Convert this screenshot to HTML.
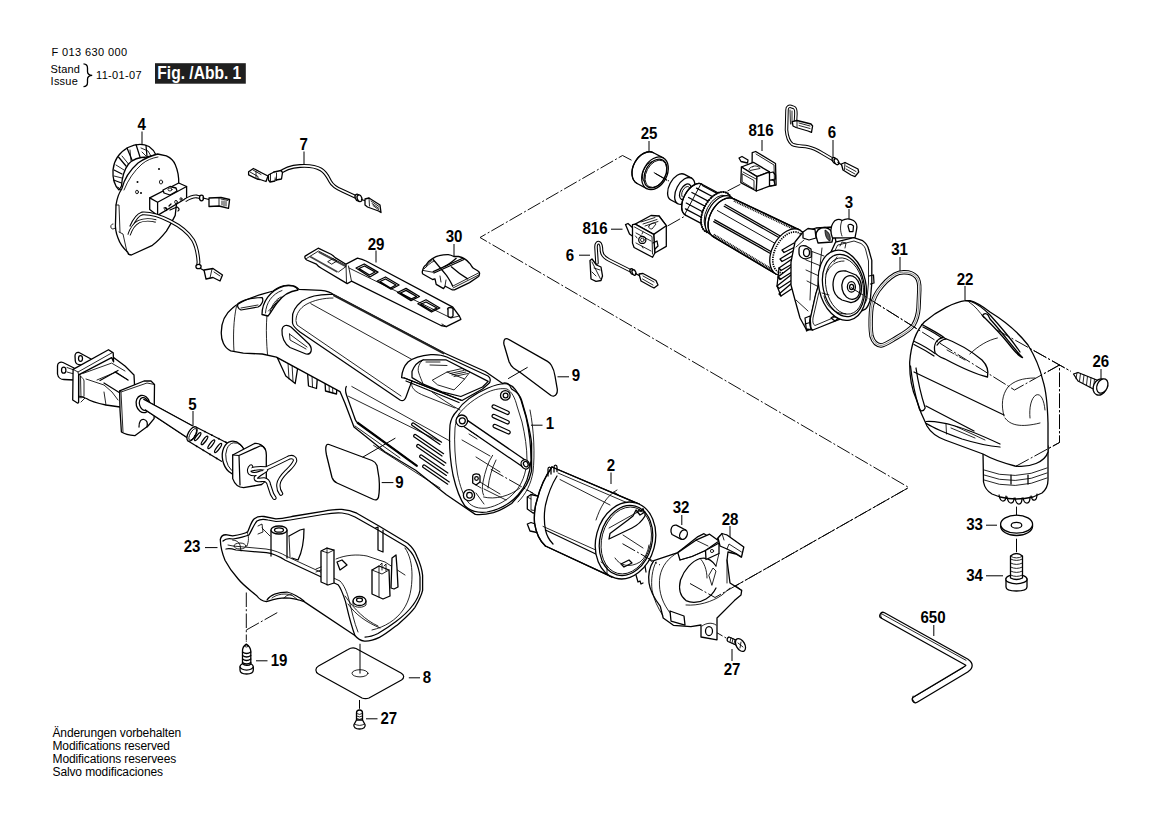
<!DOCTYPE html>
<html><head><meta charset="utf-8"><style>
html,body{margin:0;padding:0;background:#fff;width:1169px;height:826px;overflow:hidden}
svg{display:block}
text{font-family:"Liberation Sans",sans-serif;fill:#000}
.l{font-weight:bold;font-size:16.2px;text-anchor:middle}
.s{fill:none;stroke:#000;stroke-width:1.25;stroke-linejoin:round;stroke-linecap:round}
.t{fill:none;stroke:#000;stroke-width:0.85;stroke-linejoin:round;stroke-linecap:round}
.w{fill:#fff;stroke:#000;stroke-width:1.3;stroke-linejoin:round;stroke-linecap:round}
.d{fill:none;stroke:#000;stroke-width:0.9;stroke-dasharray:9 3 2 3}
.ld{fill:none;stroke:#000;stroke-width:1}
</style></head><body>
<svg width="1169" height="826" viewBox="0 0 1169 826">
<!-- header -->
<text x="51.6" y="56.3" font-size="11" textLength="75.4" lengthAdjust="spacing">F 013 630 000</text>
<text x="50.6" y="73" font-size="11" textLength="29.2" lengthAdjust="spacing">Stand</text>
<text x="50.6" y="85" font-size="11" textLength="27.2" lengthAdjust="spacing">Issue</text>
<path d="M83.5,63.8 C86.5,64 87.5,65.5 87.5,68 L87.5,71.5 C87.5,74 89,75.2 92.2,75.3 C89,75.4 87.5,76.6 87.5,79.2 L87.5,82.5 C87.5,85 86.5,86.5 83.5,86.6" fill="none" stroke="#000" stroke-width="1.3"/>
<text x="96" y="78.6" font-size="11" textLength="45.6" lengthAdjust="spacing">11-01-07</text>
<rect x="155" y="63.2" width="90.8" height="20.5" fill="#1f1f1f"/>
<text x="157.3" y="79" font-size="17.6" font-weight="bold" style="fill:#fff" textLength="84" lengthAdjust="spacingAndGlyphs">Fig. /Abb. 1</text>
<!-- footer -->
<text x="52.5" y="737" font-size="12" textLength="128.7" lengthAdjust="spacing">Änderungen vorbehalten</text>
<text x="52.5" y="750" font-size="12" textLength="117.5" lengthAdjust="spacing">Modifications reserved</text>
<text x="52.5" y="762.5" font-size="12" textLength="123.7" lengthAdjust="spacing">Modifications reservees</text>
<text x="52.5" y="775.5" font-size="12" textLength="110.5" lengthAdjust="spacing">Salvo modificaciones</text>
<!-- labels -->
<g class="lab">
<text class="l" transform="translate(141.75,130.40) scale(0.93,1)">4</text>
<text class="l" transform="translate(303.75,150.40) scale(0.93,1)">7</text>
<text class="l" transform="translate(376,249.90) scale(0.93,1)">29</text>
<text class="l" transform="translate(454,242.40) scale(0.93,1)">30</text>
<text class="l" transform="translate(649,139.40) scale(0.93,1)">25</text>
<text class="l" transform="translate(761,136.40) scale(0.93,1)">816</text>
<text class="l" transform="translate(832,137.90) scale(0.93,1)">6</text>
<text class="l" transform="translate(595,234.40) scale(0.93,1)">816</text>
<text class="l" transform="translate(570,260.90) scale(0.93,1)">6</text>
<text class="l" transform="translate(849,207.90) scale(0.93,1)">3</text>
<text class="l" transform="translate(899.5,254.90) scale(0.93,1)">31</text>
<text class="l" transform="translate(965,284.90) scale(0.93,1)">22</text>
<text class="l" transform="translate(1100.75,367.40) scale(0.93,1)">26</text>
<text class="l" transform="translate(192.5,409.90) scale(0.93,1)">5</text>
<text class="l" transform="translate(576,381.40) scale(0.93,1)">9</text>
<text class="l" transform="translate(550,429.40) scale(0.93,1)">1</text>
<text class="l" transform="translate(399.5,487.90) scale(0.93,1)">9</text>
<text class="l" transform="translate(611,470.90) scale(0.93,1)">2</text>
<text class="l" transform="translate(681,512.90) scale(0.93,1)">32</text>
<text class="l" transform="translate(730,524.90) scale(0.93,1)">28</text>
<text class="l" transform="translate(192,552.40) scale(0.93,1)">23</text>
<text class="l" transform="translate(974.5,529.90) scale(0.93,1)">33</text>
<text class="l" transform="translate(974.5,581.15) scale(0.93,1)">34</text>
<text class="l" transform="translate(933,623.40) scale(0.93,1)">650</text>
<text class="l" transform="translate(279,666.15) scale(0.93,1)">19</text>
<text class="l" transform="translate(427,682.90) scale(0.93,1)">8</text>
<text class="l" transform="translate(388.75,724.15) scale(0.93,1)">27</text>
<text class="l" transform="translate(732,674.90) scale(0.93,1)">27</text>
</g>

<g class="ld">
<path d="M142,131.5V144 M304,151.5V164 M376,250.5V262.5 M454,244V256 M649,141V151 M762,140V151 M833,140V157 M611,229.2H622.5 M579,255.2H590 M849,209V220 M900,257V271 M965,286V300 M1101,369V381 M193,411V426 M557.5,376.8H569 M531,425.2H542.5 M381.7,482.6H393.4 M611,472.5V484 M681.8,515V525 M730,526V537.5 M205,547.6H217.5 M986,525.2H997 M986,575.8H1003 M933.8,625V636 M256,660.8H267.5 M408.8,677.8H420 M366,718.8H377.5 M732,649V661"/>
</g>

<g fill="none" stroke="#000" stroke-width="0.95" stroke-dasharray="14.5 2.2 2 2.3">
<path d="M631.5,160.2 L622.5,155.5 L480,237.5 L908.8,487.5 L715,597.5 L490.8,469.3"/>
<path d="M653.8,172.5 L669,181"/>
<path d="M851,287.5 L1014.5,390 L1059.5,365 L1059.5,442.5 L1014.5,467"/>
<path d="M997,330 L1070.8,371.3"/>
<path d="M1016.5,506.6 L1016.5,523"/>
<path d="M246.3,592.5 L246.3,640 M246.3,630 L277.5,612.5"/>
<path d="M710,628.8 L727.5,638.8"/>
<path d="M667.5,226 L686,215.5 M727.5,191 L741,184"/>
</g>

<!-- hex key 650 -->
<g>
<path d="M883,615.5 L966.5,662 Q971.5,665.5 966.5,669 L915.5,699.5" fill="none" stroke="#000" stroke-width="7.6" stroke-linecap="round" stroke-linejoin="round"/>
<path d="M883,615.5 L966.5,662 Q971.5,665.5 966.5,669 L915.5,699.5" fill="none" stroke="#fff" stroke-width="5" stroke-linecap="round" stroke-linejoin="round"/>
<path d="M882,614 L966,660.3 M963.5,667.5 L914,697" class="t" stroke-width="1"/>
<path d="M882.5,612.5 Q879,615 882,618.5 M913,696 Q911,699.5 915,702.5" class="t"/>
</g>
<!-- washer 33 -->
<g>
<ellipse cx="1016.6" cy="526" rx="16" ry="9.5" class="w"/>
<ellipse cx="1016.6" cy="524.2" rx="16" ry="9" class="w"/>
<ellipse cx="1016.5" cy="525.2" rx="5.3" ry="2.9" class="s"/>
<path d="M1016.5,538.7V552" class="ld"/>
</g>
<!-- screw 34 -->
<g>
<path d="M1006,579 L1006,587 Q1006,591 1016.4,591 Q1027,591 1027,587 L1027,579" class="w"/>
<ellipse cx="1016.4" cy="579.2" rx="10.6" ry="4.6" class="w"/>
<path d="M1010.5,556 L1010.5,578 Q1016.5,581 1022.5,578 L1022.5,556 Q1016.5,551 1010.5,556 Z" class="w"/>
<path d="M1010.5,559 Q1016.5,562 1022.5,559 M1010.5,563 Q1016.5,566 1022.5,563 M1010.5,567 Q1016.5,570 1022.5,567 M1010.5,571 Q1016.5,574 1022.5,571 M1010.5,575 Q1016.5,578 1022.5,575" class="t"/>
<path d="M1011,556.5 Q1016.5,559.5 1022,556.5" class="t"/>
</g>
<!-- screw 26 -->
<g>
<path d="M1073.5,374 L1078,372.5 L1098,380.5 L1098,391.5 L1078,381 Z" class="w"/>
<path d="M1077,372.8 L1076,378.8 M1080.5,373.5 L1079.5,381 M1084,375 L1083,383 M1087.5,376.4 L1086.5,385 M1091,377.8 L1090,387 M1094.5,379.2 L1093.5,389" class="t"/>
<ellipse cx="1100" cy="387" rx="6.6" ry="8.5" transform="rotate(25 1100 387)" class="w"/>
<ellipse cx="1102.3" cy="386" rx="5.2" ry="7.5" transform="rotate(25 1102.3 386)" class="w"/>
</g>

<!-- head 22 -->
<g>
<!-- collar -->
<path d="M983,452 L983.5,482 Q985,490 992,494 L1000,497 Q1016,501 1033,497 L1042,493 Q1048,488 1048,480 L1048,446 Z" class="w"/>
<path d="M984,470 Q1015,482 1047,468 M984,475 Q1015,487 1047,473 M984,480 Q1015,492 1047,478" class="t"/>
<path d="M1011,475 V484 M1028,475 V484" class="s"/>
<path d="M999,495 Q1000,501 1003,501 Q1006,501 1006,496 M1007,497 Q1008,503 1011,503 Q1014,503 1014,498 M1015,498 Q1016,504 1019,504 Q1022,504 1022,498 M1023,498 Q1024,503 1027,503 Q1030,503 1030,497 M1031,496 Q1032,501 1035,500 Q1037,499 1037,494" class="s"/>
<!-- body -->
<path d="M965.6,300.7 C955,302 938,310 924.3,322 C915,332 911,345 909.7,362 C909.5,375 912,390 916.3,399.2 C919,408 923,418 927,426 C931,433 937,437 945,440 L983,454 C990,458 1000,462 1015,466 C1030,468 1045,462 1048,452 L1048,423 C1047.5,405 1046,390 1042.9,380.6 C1040,368 1036,358 1028,345 C1018,332 1003,320 990,312 C982,306 976,302 970,300.7 Z" class="w"/>
<!-- ridge/top -->
<path d="M965.6,300.7 L971,301.5 C978,304 985,310 990,315 C1000,326 1012,340 1020,352" class="s"/>
<path d="M968.8,301.8 C975,306 980,312 984,318" class="t"/>
<!-- right slot -->
<path d="M982.5,315.5 Q985,312 988,315 L990,319 C1002,332 1015,350 1022.5,357.5 C1020,357 1015,352 1008,343 C1000,333 990,323 982.5,315.5 Z" class="w"/>
<!-- left fin band -->
<path d="M921.8,324.5 C930,329 938,333 944,337.5 M923,327 C931,331 938,335 943,339 M914.5,341.5 C922,345 929,349 935,353.5 M914,344.5 C921,348 928,352 934,356" class="s" stroke-width="1.05"/>

<path d="M935,352.5 C933,344 937,339 943,337.5 C955,342 970,350 982,360 C987,365 989,370 987.5,377 C975,374 960,367 945,359 C940,357 937,356 935,352.5 Z" class="w"/>
<path d="M937,345 C940,341 943,339 946,339" class="s"/>
<path d="M947,350 L965,360" class="t" stroke-dasharray="8 2 2 2"/>
<!-- seam line -->
<path d="M969.8,354 C978,346 988,340 997.4,338" class="t"/>
<!-- band lines -->
<path d="M914,372 L1004,415" class="s" stroke-width="1.1"/>
<path d="M926,406 L974,431" class="s" stroke-width="1.1"/>
<path d="M910.5,366 C912,380 915,395 919.4,409 M916,368 C918,382 921,395 925.2,408 M919.4,409 C920,411.5 923.5,412 925.2,408" class="s" stroke-width="1.1"/>
<!-- front round face -->
<path d="M1004,416 C1001,405 1002,395 1008,387 C1014,381 1022,378 1035,378" class="t"/>
<path d="M1005,418 C1010,425 1020,428 1040,423" class="t"/>
<path d="M1030,418 C1029,408 1031,398 1036,395 C1041,393 1044,400 1045,410" class="t"/>
<!-- lower slot -->
<path d="M926,421.5 C935,421 945,423 955,426 C970,430 985,437 1000,444 M926.5,423.5 C935,429 948,434 962,439 C975,443 988,446 1000,447" class="s" stroke-width="1.2"/>
<path d="M946,424 L946.5,434 M951,428 L975,438 M955,426 L985,440" class="t"/>
</g>

<!-- gasket 31 -->
<g fill="none">
<path d="M903.5,272.2 C909,272 914,274 916.5,277 C919,280 919.5,285 919.3,290 L918.5,308 C918,315 916.5,320 913.5,325 C910,330 903,334 896,338 C890,341.5 885,345 881,345.5 C876,345 873,341 871.5,336 C870.5,330 870.5,320 871,312 C871.5,303 874,297 878,291 C883,284 889,278 895,274.5 C897.5,273 900.5,272.3 903.5,272.2 Z" stroke="#000" stroke-width="4.4"/>
<path d="M903.5,272.2 C909,272 914,274 916.5,277 C919,280 919.5,285 919.3,290 L918.5,308 C918,315 916.5,320 913.5,325 C910,330 903,334 896,338 C890,341.5 885,345 881,345.5 C876,345 873,341 871.5,336 C870.5,330 870.5,320 871,312 C871.5,303 874,297 878,291 C883,284 889,278 895,274.5 C897.5,273 900.5,272.3 903.5,272.2 Z" stroke="#fff" stroke-width="2.5"/>
<path d="M903.5,272.2 C909,272 914,274 916.5,277 C919,280 919.5,285 919.3,290 L918.5,308 C918,315 916.5,320 913.5,325 C910,330 903,334 896,338 C890,341.5 885,345 881,345.5 C876,345 873,341 871.5,336 C870.5,330 870.5,320 871,312 C871.5,303 874,297 878,291 C883,284 889,278 895,274.5 C897.5,273 900.5,272.3 903.5,272.2 Z" stroke="#000" stroke-width="0.45"/>
</g>

<!-- armature + bearing + commutator -->
<g transform="translate(683,190) rotate(28)">
<!-- bearing -->
<path d="M2,-14.5 L-6,-14.5 A8.5,14.5 0 0 0 -6,14.5 L2,14.5 Z" class="w"/>
<ellipse cx="2" cy="0" rx="8.5" ry="14.5" class="w"/>
<ellipse cx="3" cy="0.5" rx="5" ry="8.5" class="s"/>
<ellipse cx="3.5" cy="0.5" rx="3.5" ry="6" class="t"/>
<path d="M7,-3.5 L12,-3.5 M7,4.5 L12,4.5" class="s"/>
<!-- commutator -->
<path d="M37,-14 L14,-14 A10,17.5 0 0 0 14,21 L37,21" class="w"/>
<path d="M14,-14 A10,17.5 0 0 0 14,21" class="s"/>
<path d="M15,-13 L37,-13 M11,-8 L37,-8 M9,-2 L37,-2 M8.5,4 L37,4 M9,10 L37,10 M11,15.5 L37,15.5" class="s"/>
<path d="M13,-14 L13,21" class="t"/>
<!-- riser -->
<ellipse cx="40" cy="4" rx="13" ry="22" class="w"/>
<ellipse cx="40" cy="4" rx="13" ry="22" fill="none" stroke="#000" stroke-width="2" stroke-dasharray="1.2 1.2"/>
<ellipse cx="41" cy="4" rx="11" ry="19" class="t"/>
<!-- collar -->
<ellipse cx="45" cy="5" rx="13" ry="21.5" class="w"/>
<ellipse cx="47" cy="5" rx="11.5" ry="19.5" class="t"/>
<ellipse cx="48.5" cy="5" rx="11" ry="18.5" class="t"/>
<!-- core -->
<path d="M122,-19.5 L49,-16 A13.5,21.5 0 0 0 49,27 L122,30.5" class="w"/>
<path d="M49,-16 A13.5,21.5 0 0 0 49,27" class="s"/>
<path d="M49,-16 L122,-19.5" stroke="#000" stroke-width="1.5" fill="none"/>
<path d="M50,-14.2 L121,-17.6" stroke="#000" stroke-width="1.6" fill="none" stroke-dasharray="1 0.8"/>
<path d="M49,27 L122,30.5" stroke="#000" stroke-width="1.5" fill="none"/>
<path d="M48,25 L121,28.5" stroke="#000" stroke-width="2" fill="none" stroke-dasharray="1 0.7"/>
<path d="M44,-7 L108,-5 M44,-5 L108,-3" class="s" stroke-width="1.1"/>
<path d="M42,11.5 L108,13 M42,13.5 L108,15" class="s" stroke-width="1.1"/>
<path d="M40,2 L110,4" class="t" stroke-width="0.5"/>
<!-- fan end ellipse -->
<ellipse cx="122" cy="5.5" rx="16" ry="25" class="w"/>
<ellipse cx="122.5" cy="5.5" rx="13.5" ry="22" fill="none" stroke="#000" stroke-width="1.7" stroke-dasharray="1.3 1"/>
</g>
<!-- part 3 housing -->
<g>
<!-- fan blades -->
<path d="M794,243 L782,250 L784,252.5 L795,247 M793,251 L780,259 L782,261.5 L794,255 M792,259 L779,268 L781,270.5 L793,263.5 M791,267 L778,277 L780,279.5 L792,272 M791,275 L777,286 L779,288.5 L792,280 M792,283 L779,294 L781,296 L793,288" class="w"/>
<path d="M779,268 L777,286 L781,296 M778,277 L781,279" class="s" stroke-width="1.6"/>
<!-- body cylinder behind flange -->
<path d="M795,242 L803,232 L816,228 L833,227 L836,242 L826,265 L816,294 L810,321 L812.8,330 L806,329 L800,318 L795,300 L791,285 L791,262 Z" class="w"/>
<path d="M808,250 L824,256 M806,260 L821,266 M806,270 L819,276 M807,281 L817,286" class="t"/>
<path d="M812,252 L810,300 M822,248 L817,292" class="t"/>
<path d="M796,247 L804,240 M796,300 L808,311" class="t"/>
<!-- boss with hole on left -->
<path d="M799,249 C799,246 802,245 806,246 L811,249 L811.3,257 L806,259 C802,259 799,256 799,253 Z" class="w"/>
<ellipse cx="806.5" cy="252.5" rx="3" ry="4" class="s"/>
<!-- top hood -->
<path d="M816,236 C816,230 820,227.5 825,227.5 C830,228 833,232 833,237 L832,242 L818,243 Z" class="w"/>
<path d="M825,230 C829,232 831,236 830,241 C827,240 825,236 825,230 Z" fill="#555" stroke="#000" stroke-width="0.8"/>
<path d="M803,232 L808,228.5 L815,229.5 L816,238 L809,240 L803,238 Z" class="w"/>
<!-- top ear -->
<path d="M832.5,238 C830.5,233 830.5,227 833,223 C835,219.5 839,218.5 842,220.5 C845.5,218.5 850,218.5 853.5,220.5 C856.5,222.5 857.5,226 856.5,230 L855,237.7 Z" class="w"/>
<path d="M848,226 C848,224.5 850,224 851.5,224.5 L853.5,226 L853,231.5 L849.5,231.5 Z" class="s"/>
<path d="M842,220.5 C840,225 840,231 842,236" class="t"/>
<!-- flange -->
<path d="M835.5,242.2 L853.7,237.7 L862.7,240.7 C866,243 868,246 868.8,249.8 L871.8,260.4 L871.8,283.1 L870.3,299.7 C869,304 868,306.5 865.8,308.8 L859.7,311.8 L835.5,320.9 L820.4,327 L812.8,330 C810.5,329 809.5,326 809.8,320.9 L815.8,293.7 L825,264.9 Z" class="w"/>
<path d="M838,245 L854,241 L861,243.5 C864,245.5 865.5,248 866,251 L868.5,261 L868.5,283 L867,298.5 C866,302 864.5,304.5 862.5,306 L857,308.5 L835,317 L821,323 L815,325.5 C813,324.5 812.5,322 813,318 L818.5,294 L827.5,266 Z" class="t"/>
<path d="M869,276 L873.5,275 L874,283 L870.5,284" class="s"/>
<path d="M831,318 L834,316 L838,318.5 L835,321 Z M851,312 L855,310 L858,312 L855,314 Z" class="s"/>
<path d="M805,318 L810,316 L811,329 L806.5,331 Z M805,324 L810,322.5" class="s"/>
<path d="M840,246 L842,242 L846,243 L845,248" class="t"/>
<!-- face rings -->
<ellipse cx="842.3" cy="285.3" rx="23.5" ry="35.5" transform="rotate(-12 842.3 285.3)" class="w"/>
<ellipse cx="843.5" cy="285.5" rx="20.5" ry="31.5" transform="rotate(-12 843.5 285.5)" class="s"/>
<ellipse cx="844.5" cy="286" rx="18.5" ry="28.5" transform="rotate(-12 844.5 286)" class="t"/>
<path d="M824,296 C826,306 834,314 846,314 M826,274 C830,265 836,261 844,261" class="t"/>
<path d="M822,293 L829,295 M834,262 L837,257" class="t"/>
<!-- inner boss -->
<path d="M836,274 C838,271 842,270.5 846,271 L856,275 C861,279 862,286 861.2,292 C860,298 856,302 851,302.7 L842,300 C836,297 833,291 833,285 C833,280 834,277 836,274 Z" class="w"/>
<ellipse cx="851" cy="287.5" rx="9" ry="12" transform="rotate(-12 851 287.5)" class="w"/>
<ellipse cx="851.4" cy="286.9" rx="4" ry="5.3" class="w" stroke-width="1.4"/>
<ellipse cx="851.6" cy="286.9" rx="2" ry="2.6" class="s"/>
</g>

<!-- housing 1 -->
<g>
<!-- tabs below -->
<path d="M277,357 L285.8,376 L295.2,383.5 L297.6,368.5 Z" class="w"/>
<path d="M288,363 L289,379 M292,364 L293,381" class="t"/>
<path d="M307.5,372 L308.5,386 L316.5,388.5 L317.5,376 Z" class="w"/>
<path d="M312,375 L312.5,387" class="t"/>
<path d="M325,381 L325.5,391 L336.5,394 L337,386 Z" class="w"/>
<path d="M329,382 L329.3,392 M332.5,383 L332.8,393" class="t"/>
<!-- main silhouette -->
<path d="M230.7,350.8 C224,348 221,340 221.3,332 C221.5,322 225,314 232.3,308.3 C238,303 246,299 262.2,294.2 L273.2,291 C277,288 281,286 287,285.5 C293,285 297,287 299,289.4 L321,290.4 C327,291 331,292.5 333.4,294.5 L444.2,353 L485.3,371.5 L502.6,383.5 C505,382 509,383 511.6,389 C517,392 520,395 521.5,400 L526.2,416.3 C529,428 531,436 531.6,443.6 L531.6,470.8 C530,478 528,482 526.2,485.4 C521,493 516,499 511.6,503.5 C505,508 499,511 493.5,512.6 C486,514.5 480,515 475.3,514.4 L446.4,494.8 L415.6,470.2 L384.8,451.7 L354,427 L344.7,402.4 L340,391.6 L276.4,357.1 L262.2,354 L243.3,353.2 Z" class="w"/>
<!-- nose details -->
<path d="M236.5,306 C233.5,320 233,336 234,351.5" class="t"/>
<path d="M270,296 C266,312 265.5,332 267.5,354.5" class="t"/>
<path d="M238,303.5 C243,300 252,298 262,297.5 C264,300 262,305 258,307 L241,310 C238,309 237,306 238,303.5 Z" class="s"/>
<path d="M241,308 L258,305" class="t"/>
<!-- handle loop -->
<path d="M262,314.5 C262,302 270,290 284,286 C291,284.5 297,286.5 298,290 C290,291 282,296 277,303 C273,308 271,313 268,316 Z" class="w"/>
<path d="M265.5,313 C266,303 272,294 282,290.5 M270,312 C272,305 276,299 281,297" class="t"/>
<path d="M268.5,311 L276,303 M272,308 L278,300" class="t"/>
<!-- side lens slot -->
<path d="M282,330 C282.5,325 287,324 291,327 L309,344 C313,349 311.5,355 306,354 L290,347.5 C284.5,344 281.5,337 282,330 Z" class="s"/>
<path d="M289.5,334 L290,340 L306,349 M289.5,334 L307,347" class="t"/>
<!-- top panel -->
<path d="M292.5,318 C292,312 296,306 302,301 C310,296 320,294 333,294.5" class="s"/>
<path d="M333.4,295 L444.2,353.5" fill="none" stroke="#222" stroke-width="2.3"/>
<path d="M296,320 C296,314 300,308 306,304.5 C314,300 324,298 333,298" class="t"/>
<path d="M292.5,318 L292.5,323 C293,326 296,329 300,332 L400,400 C403,401.5 405,400 406,397 L410,386 C411,383 411,382 412,381" class="s"/>
<path d="M296,321 L297,325 L401,396" class="t"/>
<path d="M310.8,303.7 L411.4,359.2" class="t"/>
<!-- switch housing -->
<path d="M401.6,377.6 C402,372 404,366 408,362 C413,358 420,355.5 430.8,354.6 C437,354.3 442,354.8 446.8,357 L488,376 C491,378 491,382 488.2,384 L482.5,389 L462,400.5 L404.4,378 Z" class="w"/>
<path d="M412,371.5 C414,366 418,361.5 423.2,359.8 L445.8,359.8 L488.2,381.4 L482.5,387 L460.9,396.5 L442,391.8 L423.2,384.2 L412,377.6 Z" class="s"/>
<path d="M404.4,378 L460.9,400.2 M406,381 L459,402.5" class="s" stroke-width="1.1"/>
<path d="M423.2,359.8 C419,363 417.5,368 418.5,372 C420,377 422,381 423.2,384.2" class="t"/>
<path d="M432.6,380 L447,372 L464.6,379 L460,384 L454,389.9 L438,385 Z" class="t"/>
<path d="M447,372 L462,368.5 L470,372 L464.6,379 M450,373.5 L464,370.5 M452,375 L466,372 M454,376.5 L468,373.5" class="t"/>
<path d="M426,362 L440,362 M430,365 L447,365.5" class="t"/>
<!-- handle side -->
<path d="M346.3,386.5 C345,389 345.5,392 346.5,395 L354,416 C355,419.5 356,421.5 357.2,422.5 L417.2,466.1" class="s"/>
<path d="M351.8,386.5 L449.9,441 M348.5,396.3 L439,441" class="t"/>
<path d="M357.2,422.5 L417.2,466.1" fill="none" stroke="#000" stroke-width="2.2"/>
<path d="M355,426 L400,458 M373.6,445.4 L440,488" class="t"/>
<path d="M441.6,442.2 L413.5,423.0 A1.5,1.5 0 0 0 411.9,425.3 L440.0,444.5" class="s"/>
<path d="M443.6,453.7 L415.5,434.5 A1.5,1.5 0 0 0 413.9,436.8 L442.0,456.0" class="s"/>
<path d="M445.8,463.1 L418.5,444.5 A1.5,1.5 0 0 0 416.9,446.8 L444.2,465.4" class="s"/>
<path d="M447.9,473.0 L421.5,455.0 A1.5,1.5 0 0 0 419.9,457.3 L446.4,475.4" class="s"/>
<path d="M449.3,481.9 L424.5,465.0 A1.5,1.5 0 0 0 422.9,467.3 L447.7,484.2" class="s"/>
<!-- rear rim -->
<path d="M457,411 C463,402 474,394 488,388 C495,385 502,383 508,384 C514,386 518,392 521,400 L526,417 C529,430 531,445 531,460 C530,475 526,486 518,495 C510,504 498,510 487,512 C478,513 470,511 465,506 C459,498 456,488 453,475 C450,460 449,440 450,425 C451,418 454,414 457,411 Z" class="s"/>
<path d="M459,414 C465,406 475,398 488,392 C495,389 502,388 507,389 C512,392 515,398 517,406 L522,422 C525,435 527,448 527,460 C526,474 522,484 515,492 C508,500 497,506 487,508 C479,509 472,507 468,502 C463,495 460,486 457.5,474 C455,460 454,442 455,428 C456,421 457,417 459,414 Z" class="t"/>
<path d="M530,410 C534,430 535,455 533,472 C531,484 526,494 518,502" class="t"/>
<!-- rods -->
<path d="M463.8,417.9 L527.3,461.5 L523.3,467.3 L459.8,423.7 Z" class="w"/>
<ellipse cx="525.3" cy="464.4" rx="4" ry="4.8" transform="rotate(-30 525.3 464.4)" class="w"/>
<ellipse cx="525.8" cy="464.2" rx="2.2" ry="2.8" transform="rotate(-30 525.8 464.2)" class="s"/>
<path d="M470,431 L478,436 M469,434 L477,439" class="t"/>
<!-- bosses -->
<circle cx="461.8" cy="420.8" r="5.8" class="w"/><circle cx="462.3" cy="420.8" r="3" class="s"/>
<circle cx="505.3" cy="395.4" r="4.8" class="w"/><circle cx="505.6" cy="395.4" r="2.4" class="s"/>
<circle cx="469" cy="495.2" r="5.6" class="w"/><circle cx="469.5" cy="495.2" r="2.8" class="s"/>
<path d="M472.7,483 L472.7,476 C473,474 476,473.5 479,474.4 L480,476 L480,482 L476,485 Z" class="w"/><circle cx="476.5" cy="478.5" r="1.8" class="s"/>
<path d="M476,485 L481,488 M480,482 L500,494" class="t"/>
<!-- vents right -->
<path d="M494.5,405.0 L508.2,411.2 A1.7,1.7 0 0 1 506.8,414.3 L493.1,408.1 A1.7,1.7 0 0 1 494.5,405.0 Z" class="s"/>
<path d="M494.5,414.5 L508.2,420.7 A1.7,1.7 0 0 1 506.8,423.8 L493.1,417.6 A1.7,1.7 0 0 1 494.5,414.5 Z" class="s"/>
<path d="M495.5,424.5 L509.2,430.7 A1.7,1.7 0 0 1 507.8,433.8 L494.1,427.6 A1.7,1.7 0 0 1 495.5,424.5 Z" class="s"/>
<!-- inner arcs -->
<path d="M492.6,455.3 C488,462 485,472 483,482 C482,488 482,492 483.6,495.2" class="t"/>
<path d="M496,460 C492,468 489,478 488,488" class="t"/>
<path d="M483.6,497 C495,500 510,496 520,488" class="t"/>
<path d="M476,457 L500,472 M462,440 L490,456" class="t"/>
<path d="M476,493 L484,504 M484,489 L506,500" class="t"/>
<path d="M432,392 C440,398 452,406 460,410" class="t"/>
<path d="M412,381 C410,388 415,392 425,396 L455,408" class="t"/>
</g>

<!-- lower housing 23 -->
<g>
<path d="M220.3,539.5 C221,536 224,534.5 227,534.8 L232.6,535.8 C238,535 244,534 247.6,532 C250,527 251,522 254,519 C257,516.5 260,516 264,516.5 L275.9,518.8 C283,518.5 289,517 294.7,516 L322.9,511.3 C330,510 336,509 341.7,509.4 C347,509.8 352,511 356.8,513.2 L379.4,526.3 L407.6,543.3 C412,547 415,551 417,556.5 C420,563 422,569 422.6,575.3 L422.6,590.3 C421,597 418,602 415,607.3 C410,614 404,619 398.2,624.2 C392,629 386,634 379.4,637.4 C374,640 369,641.5 364.3,641.1 C360,640.5 357,638 354.9,635.5 L304.1,601.6 C298,599.5 291,598 285.3,597.9 C278,598 272,600 266.5,601.6 C262,601 259,599 257,596 C250,590 243,585 238.2,579 C232,572 228,566 225,560.2 C222,553 220.5,546 220.3,539.5 Z" class="w"/>
<!-- rim double -->
<path d="M223,541 C226,538 229,538 233,539 C239,538 244,537 249,535 C252,530 254,524 257,521 C260,519 264,519 268,520 L276,521.5 C284,521 290,520 296,519 L323,514.5 C331,513 337,512.5 342,513 C347,513.5 351,515 355,517 L378,530 L405,546 C410,550 413,554 415,559 C418,566 419.5,572 420,577 L420,590 C419,596 416,601 413,605 C408,612 402,617 396,621.5 C390,626 384,630 378,633.5 C373,636 369,637 365,637" class="s" stroke-width="1.1"/>
<path d="M226,549 C229,548 233,549 236,550 L266.5,552.7 C273,553.5 280,557 285.3,560.2 L338,584.7 C341,588 343,594 345.5,601.6 C348,612 350,622 354.9,635.5" class="s"/>
<path d="M228,545 L233,546 L266,549 C274,550 281,553 287,556.5 L340,581 C344,585 347,592 349,600 C352,612 354,622 358,632" class="t"/>
<!-- inner wall far -->
<path d="M405,548 C410,555 412,565 412,575 C412,588 410,600 403,610 C396,620 385,627 372,630" class="t"/>
<path d="M345,596 C355,610 365,620 378,626 M348,604 C356,615 366,622 380,628" class="t"/>
<!-- nose inner -->
<path d="M232.6,540 C236,540 239,542 240,545 L241,551 M247,532 C249,536 249,541 247,546" class="t"/>
<ellipse cx="240" cy="546" rx="6" ry="3" class="t"/>
<!-- boss cylinder -->
<path d="M271,530 L271,556 M287,530 L287,558" class="s"/>
<ellipse cx="279" cy="530" rx="8" ry="4" class="w"/>
<ellipse cx="279" cy="530" rx="4.5" ry="2.2" class="s"/>
<path d="M258,526 L262,524 L263,532 L258,534 M262,528 L270,536" class="t"/>
<!-- curved fin -->
<path d="M289,536 L300,530 L304,529 C304,540 302,552 298,560 L292,558" class="s"/>
<path d="M289,536 L290,557" class="t"/>
<!-- post -->
<path d="M321,551 L327,548 L334,550 L334,583 L328,585 L321,582 Z" class="w"/>
<path d="M327,548 L327,585 M322,551 L328,553 L334,550" class="t"/>
<path d="M336,559 C345,555 357,554 367,556 L385,562 L405,575" class="t"/>
<path d="M337,562 L342,560 L347,565 L340,570 Z" class="s"/>
<path d="M316,569 L321,567 M316,572 L321,570" class="t"/>
<!-- box and tabs right -->
<path d="M372,570 L379,566 L389,570 L390,596 L383,599 L372,594 Z" class="w"/>
<path d="M379,566 L379,597 M372,570 L382,574 L389,570" class="t"/>
<path d="M380,565 L382,563 L382,570 M384,566 L386,564 L386,571" class="t"/>
<path d="M392,558 L396,555 L397,568 L398,587 L394,589 L391,588 Z" class="w"/>
<path d="M375.5,528 L378,527 L378,550 L383,552 L383,530" class="s"/>
<!-- ring boss -->
<ellipse cx="359.5" cy="601" rx="6.5" ry="4.5" class="w"/>
<ellipse cx="359.5" cy="600" rx="3" ry="1.8" class="s"/>
<path d="M353,601 L353,605 C356,608 363,608 366,605 L366,601" class="t"/>
<!-- lower window -->
<path d="M267,600 C270,595 278,592 287,592 C293,593 296,596 300,598 L304,601" class="s"/>
<path d="M284,598 C286,595 290,594 293,596 L298,600" class="t"/>
<path d="M272,598 C277,594 285,593 292,595" class="t"/>
</g>

<!-- cord 5 with plug -->
<g>
<!-- prongs -->
<path d="M74,368 L63,362.5 C60,361.5 57.5,363 57.5,366 L57.5,374 C58,377.5 61,379.5 64,379.5 L74,380" class="w"/>
<ellipse cx="63.7" cy="370.2" rx="2.2" ry="3" class="s"/>
<path d="M67,367.5 L74,370 M67,372 L74,374" class="t"/>
<path d="M91,359 L79,352.5 C76.5,352 75,353.5 75,356 L75.3,361 C75.8,364 78,365 81,364.8 L86,364.5" class="w"/>
<ellipse cx="80.5" cy="358.5" rx="2" ry="2.8" class="s"/>
<!-- body -->
<path d="M78.6,374.9 L111.6,356 L125,366 L134,375 L135,394 L120,407 L106,405 C96,403 90,401 86.5,398.5 L78.6,396 Z" class="w"/>
<path d="M83.3,373.3 L111.6,363.1 L125,371" class="t"/>
<path d="M86,379 L104,385 L112,392 L118,400 M97,380 L116,372 L128,380 M106,405 L104,392" class="t"/>
<path d="M100,380.5 L118,370.5" class="s"/>
<path d="M104,383 L120,393" class="s" stroke-width="1.8"/>
<path d="M115,372 L128,380" class="s" stroke-width="1.6"/>
<!-- face plate L-frame -->
<path d="M73.1,369.4 L108.5,349.7 L113.2,352.9 L113.6,361.9 L111.6,357.6 L78.6,374.9 L78.6,402.4 L77.8,403.2 L72.7,400 Z" class="w"/>
<path d="M73.1,369.4 L78,372 L112.5,352.5 M78,372 L78.6,374.9" class="t"/>
<path d="M80.5,376 L81,398 M80.5,376 C82,378 84,379 84,381 L84,396" class="t"/>
<path d="M79,398 C81,396 84,396 85,398 L81,402" class="t"/>
<!-- strain relief block -->
<path d="M119.6,390.9 L144,381 L151,381 L154.5,384.5 L154.1,418.7 L148,426 L134.8,435.7 C128,435 123,433 121.4,432 L120,410 Z" class="w"/>
<path d="M119.6,390.9 L121,392 L147,383 L154.5,384.5 M121,392 L123,432" class="t"/>
<ellipse cx="143" cy="404" rx="6.8" ry="8.8" transform="rotate(-15 143 404)" class="w"/>
<ellipse cx="144" cy="404" rx="4.5" ry="6.5" transform="rotate(-15 144 404)" class="s"/>
<path d="M139,427 C139,421 141,419 144,419.5 C147,420 148,423 147,427" class="s"/>
<!-- cord -->
<path d="M144,399.5 L192,425.8 M145.5,410 L188.5,438.6" class="s"/>
<path d="M144,399.5 L192.5,426 L188.5,438.6 L145.5,410 Z" fill="#fff" stroke="none"/>
<path d="M144,399.5 L192.3,425.8 M145.5,410 L188.5,438.6" class="s"/>
<!-- strain relief with slots -->
<path d="M195.9,427.0 L230.6,444.7 L221.4,461.3 L188.1,441.0 Z" fill="#fff" stroke="none"/>
<path d="M195.9,427.0 L230.6,444.7 M188.1,441.0 L221.4,461.3" class="s"/>
<ellipse cx="192" cy="434" rx="3.8" ry="8" transform="rotate(29.2 192 434)" class="w"/>
<ellipse cx="192.7" cy="434.4" rx="2.5" ry="6.5" transform="rotate(29.2 192.7 434.4)" class="t"/>
<ellipse cx="197.7" cy="436.6" rx="1.4" ry="4.9" transform="rotate(37.2 197.7 436.6)" fill="#fff" stroke="#000" stroke-width="1.3"/>
<ellipse cx="204.5" cy="440.4" rx="1.4" ry="5.1" transform="rotate(37.2 204.5 440.4)" fill="#fff" stroke="#000" stroke-width="1.3"/>
<ellipse cx="211.3" cy="444.2" rx="1.4" ry="5.3" transform="rotate(37.2 211.3 444.2)" fill="#fff" stroke="#000" stroke-width="1.3"/>
<ellipse cx="218.1" cy="448.0" rx="1.4" ry="5.5" transform="rotate(37.2 218.1 448.0)" fill="#fff" stroke="#000" stroke-width="1.3"/>
<circle cx="204.9" cy="431.6" r="0.9" fill="#000"/><circle cx="196.7" cy="446.3" r="0.9" fill="#000"/>
<circle cx="211.9" cy="435.2" r="0.9" fill="#000"/><circle cx="203.4" cy="450.3" r="0.9" fill="#000"/>
<circle cx="218.8" cy="438.7" r="0.9" fill="#000"/><circle cx="210.1" cy="454.4" r="0.9" fill="#000"/>
<circle cx="225.8" cy="442.2" r="0.9" fill="#000"/><circle cx="216.7" cy="458.4" r="0.9" fill="#000"/>
<!-- collar disk -->
<ellipse cx="234.5" cy="458" rx="12" ry="17" transform="rotate(-12 234.5 458)" class="w"/>
<ellipse cx="236.5" cy="458" rx="10.5" ry="15.5" transform="rotate(-12 236.5 458)" class="t"/>
<!-- block -->
<path d="M232.7,455 L254.5,443.5 C258,443 262,444.5 265.4,449.5 C266.5,452 266.5,455 266.3,458 L266.3,478.6 C265.5,481.5 264,483 261.7,484.5 L243.6,487.7 C238,487.5 235,485 232.7,478.6 Z" class="w"/>
<path d="M232.7,455 L239,455.5 L260,446 C262,445.5 264,446.5 265.4,449.5 M239,455.5 L240,485" class="s" stroke-width="1.1"/>

<!-- clip wire -->
<path d="M251,469.5 C256,468 262,468 266,468.5 C272,466 280,462 289.5,457.3 C293,456.5 295.5,458 295,461 C293,466 289,469 286.5,471.5 C282,476 279,480 278.5,484 C278,488 279,491 281,493.6 M266,470 C262,473 258,475 256,477.5 C255,480 258,480.5 264,479.5 C267,480 268.5,482 269,485 C270,488 271,491 272,494 L274.4,497.8 M251,466.5 C249,468 248.5,471 250,473 C252,474.5 257,474 261,472.5" fill="none" stroke="#000" stroke-width="4.4" stroke-linecap="round" stroke-linejoin="round"/>
<path d="M251,469.5 C256,468 262,468 266,468.5 C272,466 280,462 289.5,457.3 C293,456.5 295.5,458 295,461 C293,466 289,469 286.5,471.5 C282,476 279,480 278.5,484 C278,488 279,491 281,493.6 M266,470 C262,473 258,475 256,477.5 C255,480 258,480.5 264,479.5 C267,480 268.5,482 269,485 C270,488 271,491 272,494 L274.4,497.8 M251,466.5 C249,468 248.5,471 250,473 C252,474.5 257,474 261,472.5" fill="none" stroke="#fff" stroke-width="2.3" stroke-linecap="round" stroke-linejoin="round"/>
</g>

<!-- switch assembly 4 -->
<g>
<!-- dial -->
<path d="M119,190 C114,185 112.5,178 113,170 C114,160 120,152 128,147.5 C135,144 143,143.5 149,146.5 C152,148.5 154.5,151.5 156,155 L147,157 C140,157 133,159 128.5,164 C124,170 122,178 121.5,186 Z" class="w" stroke-width="1.4"/>
<path d="M127,148 L132,160 M118.5,157 L126,166 M114,170 L122,174 M113.5,180 L121.5,183" class="s" stroke-width="1.4"/>
<path d="M136,144.5 L140,157 M146,145.5 L147,156.5" class="s"/>
<path d="M128.5,164 L122,156 M124,170 L116,165 M122,178 L114,176 M131,161 L130,150" class="t"/>
<path d="M118,187 C119,188 120,189.5 121,190" class="t"/>
<path d="M141,148 L148,151 L151,156 M142,152 L146,156" class="t"/>
<!-- plate -->
<path d="M121.7,189 C124,180 130,170 138,163 C145,158 150,156 157.6,154 L166.4,155.8 C171,158 174,161 175.2,164.6 C178,171 179,177 178.7,183.9 L175.2,215.4 C172,222 169,227 166.4,231.2 C161,238 157,242 152.4,245.3 L131.3,255 C129,255 128,254 127.8,252.3 C123,248 120,244 118,238 C116,233 115,228 115.5,222.5 L116,205 C117,198 119,193 121.7,189 Z" class="w"/>
<path d="M124,190 C128,180 134,171 142,164 C147,160 152,158 158,157" class="t"/>
<path d="M119,232 L123,234 L127,252 M116,205 L119,205 L120,232" class="t"/>
<circle cx="137.5" cy="182" r="1" fill="#000"/>
<circle cx="159" cy="169" r="1" fill="#000"/>
<circle cx="141" cy="193" r="1" fill="#000"/>
<ellipse cx="161" cy="182" rx="1.6" ry="2" class="t"/>
<ellipse cx="137" cy="192" rx="1.4" ry="1.8" class="t"/>
<path d="M113,224 C110,224 110,229 113,229 L115.5,228" class="t"/>
<!-- switch box -->
<path d="M149.7,197.9 L178.7,183 L186.6,186.5 L186.6,198 L157.6,215.4 L149.7,209.5 Z" class="w"/>
<path d="M149.7,197.9 L157.6,202.3 L186.6,186.5 M157.6,202.3 L157.6,215.4" class="s"/>
<path d="M163,190 L170,186.5 L176,188 L177,191 L170,195 L164,193 Z" class="w"/>
<ellipse cx="170" cy="189.5" rx="2" ry="1.5" class="t"/>
<ellipse cx="176" cy="202" rx="1.3" ry="1.7" class="t"/>
<ellipse cx="181" cy="199" rx="1" ry="1.4" class="t"/>
<path d="M164,208 C166,207 167,208 166.5,210 M169,206 L171,204 M170,210 L177,207 M177,207 C179,208 180,210 178,211" class="s"/>
<circle cx="166" cy="209.5" r="1.3" class="t"/>
<!-- wire 1 -->
<path d="M185,200.5 C189,198 193,196 197,196.5 L201,197.5" fill="none" stroke="#000" stroke-width="3.8"/>
<path d="M185,200.5 C189,198 193,196 197,196.5 L201,197.5" fill="none" stroke="#fff" stroke-width="1.7"/>
<ellipse cx="201.5" cy="198" rx="2" ry="2.8" class="w"/>
<path d="M203,198 L209,199.5" class="s" stroke-width="2"/>
<path d="M209,198 L221,197.5 L229.6,199.5 L228.5,208.4 L219,206 L209,206.5 Z" class="w"/>
<path d="M219,198 L219,206 M221,199 L228,200.5 M222,201 L222,205 M224,201 L224,206 M226,201.5 L226,206" class="t"/>
<!-- wire 2 -->
<path d="M131,227 C134,220 137,215 142,213.5 C150,213 160,216 170,221 C180,226 188,232 193,240 C197,247 198,255 198.5,262 L198,266" fill="none" stroke="#000" stroke-width="3.8"/>
<path d="M131,227 C134,220 137,215 142,213.5 C150,213 160,216 170,221 C180,226 188,232 193,240 C197,247 198,255 198.5,262 L198,266" fill="none" stroke="#fff" stroke-width="1.7"/>
<path d="M129,235 C131,229 134,224 139,221.5 C144,219.5 150,219.5 156,221" fill="none" stroke="#000" stroke-width="3.4"/>
<path d="M129,235 C131,229 134,224 139,221.5 C144,219.5 150,219.5 156,221" fill="none" stroke="#fff" stroke-width="1.6"/>
<ellipse cx="198.5" cy="266.5" rx="2.6" ry="2.2" class="w"/>
<path d="M200.5,268.5 L205,271" class="s" stroke-width="2"/>
<path d="M204,270 L213,268.5 L222.5,275 L220,281 L213,277.5 L206,279 Z" class="w"/>
<path d="M212,269 L210,278 M214,272 L220,276" class="t"/>
</g>

<!-- wire 7 -->
<g>
<path d="M278.5,174 C284,169 292,166.5 300,166 C308,165.5 316,166.5 321,169.5 C326,172.5 328,177 330,181 C332,185 336,188 342,190.5 L356,197" fill="none" stroke="#000" stroke-width="3.8" stroke-linecap="round"/>
<path d="M278.5,174 C284,169 292,166.5 300,166 C308,165.5 316,166.5 321,169.5 C326,172.5 328,177 330,181 C332,185 336,188 342,190.5 L356,197" fill="none" stroke="#fff" stroke-width="1.6" stroke-linecap="round"/>
<!-- left connector -->
<path d="M248.6,171.8 L253.4,168.5 L262,173 L268,176 L266,181.5 L260,179.5 L257,179 L248.6,174.8 Z" class="w"/>
<path d="M250,172 L258,176.5 L258,179 M253,170 L261,174.5 M256,171.5 L256,178" class="t"/>
<path d="M268.4,175 L274,172 L276,173.5 L275,181 L270,182 L268.5,180 Z" class="w"/>
<path d="M274,172 L281,170.5 L282.5,172.5 L281.5,179 L276,180" class="w"/>
<path d="M270.5,174 L270.5,181 M276.5,173 L276.5,180.5" class="t"/>
<!-- right sleeve + connector -->
<ellipse cx="357.5" cy="197.5" rx="2.3" ry="3.4" transform="rotate(-20 357.5 197.5)" class="w"/>
<ellipse cx="359.5" cy="198.3" rx="2.3" ry="3.4" transform="rotate(-20 359.5 198.3)" class="w"/>
<path d="M361.5,199.5 L366,201" class="s" stroke-width="2.2"/>
<path d="M365,199 L369,198 L380,205 L381,212.5 L378.5,211 L367.5,207 L365,205 Z" class="w"/>
<path d="M369,198 L369.5,206 M371,201 L379,206.5 M372,203.5 L379,208.5 M373,205.5 L379,210" class="t"/>
</g>

<!-- slide bar 29 -->
<g>
<path d="M318.2,248.2 L331.5,254.5 C333,255.5 334,256.5 335.1,257.6 L346,264.2 L357.5,258.2 L362,259.3 L366,261 L452.8,307.1 L459.3,316 L460.9,319.3 L446.3,326.6 L441,325.5 L351.5,281.2 L347.2,283.6 L321.8,268.5 C319,267 317.5,266 316.4,264.2 L306.7,260 C305,259 304.5,257 305.1,256.1 Z" class="w"/>
<path d="M306.5,258.5 L318.5,251 L346,265.5" class="t"/>
<path d="M318.6,252 L346,266.5 M310,256.5 L337.5,272" fill="none" stroke="#444" stroke-width="1.7"/>
<path d="M346,264.2 L346.5,282.5 M338.5,272 L346,266.5 M348.5,266 L351.5,281.2" class="t"/>
<path d="M328,261.5 L333,258.5 L337,261 L332,264 Z" class="t"/>
<path d="M349,268 L451,318 L459.3,316 M442,324 L446.3,326.6" class="t"/>
<!-- windows -->
<path d="M356,268 L364.2,264 L378,272.1 L369.9,277 Z M359,268.5 L364.5,266 L375,272 L369.5,275 Z" class="s"/>
<path d="M377.2,281 L385.5,277 L399.1,285 L391,289.2 Z M380,281.5 L385.5,279 L396,285 L390.5,288 Z" class="s"/>
<path d="M397.5,292.5 L406,288.4 L419.5,296.5 L411,300.6 Z M400.5,293 L406,290.4 L416.5,296.5 L411,299 Z" class="s"/>
<path d="M417.8,303.8 L426,299.8 L439.8,308 L431.5,312 Z M420.8,304.3 L426,302 L437,308 L431.5,310.5 Z" class="s"/>
<!-- end pin -->
<path d="M448,309 L448,316 C449,318 452,318 453,316 L453,309 M447.5,309 C448,307 452,307 453.5,309" class="w"/>
</g>
<!-- button cap 30 -->
<g>
<path d="M422.3,271.6 C423,268 424,266 425.9,265 C428,262 430,260 432,258.9 C435,257 437,256 439.2,255.6 C442,255 445,254.6 448.3,254.7 C450.5,255 452,255.6 453.8,256.5 L458.6,256.5 C461,257 463,257.8 464.7,258.9 C466.5,260 468,261.5 469.5,263.2 C471,265 472,266.8 473.1,268 C475,269.5 477,270 478,271 C479.5,272 479.8,273 479.5,274 C479.3,275.3 479,276 478.6,276.5 L469.5,282.6 L454.4,289.8 L452,289.8 L445.3,286.2 L443.5,288.6 L436.2,284.4 L435,278.9 L432.6,279.5 L422.9,274 C422.3,273.3 422.2,272.4 422.3,271.6 Z" class="w" stroke-width="1.4"/>
<path d="M422.9,270.4 L433.2,272.3 M452.6,286.2 L478.6,272.9 M453,288 L478.8,275" class="t"/>
<path d="M433.2,271.6 L462.8,258.3 M434,273 L464,259.5" class="s"/>
<path d="M433.2,259.5 C437,264 442,270 446.5,275.3 C449,279 451,282 452.6,286" class="s"/>
<path d="M451.3,266.8 C456,271 461,275 467.7,278.9" class="s"/>
<path d="M456.2,258.3 C452,262 448,265 444,266.8" class="s"/>
<path d="M426,267 C427,264 429,262 432,260.5 M424,269 C427,266 430,263 434,261" class="t"/>
<path d="M440,276 L441,282 M445,286 L446,280" class="t"/>
</g>

<!-- ring 25 -->
<g transform="translate(655,173.3) rotate(28)">
<path d="M0,-17.4 L-11,-17.4 A11.9,17.4 0 0 0 -11,17.4 L0,17.4 Z" class="w"/>
<path d="M-11,-17.4 A11.9,17.4 0 0 0 -11,17.4" class="s" stroke-width="1.4"/>
<ellipse cx="0" cy="0" rx="11.9" ry="17.4" class="w" stroke-width="1.3"/>
<ellipse cx="0.5" cy="0" rx="10.2" ry="15.4" class="s"/>
<ellipse cx="1" cy="0" rx="9.5" ry="14.6" class="t"/>
<path d="M-8,-9 A6,11 0 0 0 -6,12" class="t"/>
</g>
<path d="M655,173.3 L667.2,180.5" class="ld"/>

<!-- brush holder 816 lower -->
<g>
<path d="M653.7,218.6 L659,216 L666.3,225.7 L666.3,246.4 L654.8,253 L653.7,234.4 Z" class="w"/>
<path d="M635.2,224.1 L651,215.5 L659,216 L666.3,225.7 L653.7,234.4 Z" class="w"/>
<path d="M641,222 L655,217.5 M643,224 L657,219.5 M645,226 L658,221.5" class="t"/>
<path d="M649,226 C651,223 655,222 656,224 L652,229 C650,229 648,228 649,226 Z" class="t"/>
<path d="M625.5,224.6 L628,223.5 L634,229 L633,236.6 L629.5,234 Z" class="w"/>
<path d="M632.5,224.6 L635.2,224.1 L653.7,234.4 L654.8,253 L652.6,257.3 L634.1,247.5 L632.5,243.1 Z" class="w"/>
<path d="M634.5,227 L652,236.5 L652.5,254" class="t"/>
<path d="M636,233 L651,241 M636,243 L651,251" class="t"/>
<circle cx="642.3" cy="239.9" r="3.6" class="s"/>
<circle cx="642.3" cy="239.9" r="1.8" class="t"/>
<path d="M642,234 L643,232 M642,246 L643,248 M637,238 L635.5,236" class="t"/>
<path d="M653,243 L657,241 L658,246 L655,249" class="s"/>
</g>
<!-- wire 6 lower -->
<g>
<path d="M597,263 L596,247 C596,243 598,242 599.5,243 C601,244 601.5,247 601.5,251 C602,255 605,258 609,260 L630,270.5" fill="none" stroke="#000" stroke-width="3.6" stroke-linecap="round"/>
<path d="M597,263 L596,247 C596,243 598,242 599.5,243 C601,244 601.5,247 601.5,251 C602,255 605,258 609,260 L630,270.5" fill="none" stroke="#fff" stroke-width="1.5" stroke-linecap="round"/>
<path d="M590,260.6 L592,259 L596.5,265 L601,267 L602.5,276 L601,280.5 L596,281.3 L591,279 Z" class="w"/>
<path d="M592,262 L598,274 L600.5,279 M594,268 L600,270 M592,272 L596,276" class="t"/>
<ellipse cx="632" cy="271.5" rx="1.8" ry="2.8" transform="rotate(-25 632 271.5)" class="w"/>
<ellipse cx="634" cy="272.5" rx="1.8" ry="2.8" transform="rotate(-25 634 272.5)" class="w"/>
<path d="M635.5,273.5 L640,276" class="s" stroke-width="2"/>
<path d="M639,274 L643,273.5 L656,280.5 L658,285 L654,288 L651,286.5 L641,281 Z" class="w"/>
<path d="M643,276 L654,282 M642.5,279 L653,285" class="t"/>
</g>
<!-- brush holder 816 upper -->
<g>
<path d="M752.2,152.7 L755.7,151.5 L775.5,163.5 L776.1,185 L770.7,186.2 L752,176 Z" class="w"/>
<path d="M756,154 L774,165 L774.5,183" class="t"/>
<path d="M739,158 L742,156.5 L748,160 L747.5,163 L741,161.5 Z" class="w"/>
<path d="M741.4,167 L753.4,162.3 L769.5,171.9 L757,176.6 Z" class="w"/>
<path d="M741.4,167 L757,176.6 L756.3,191 L740.8,182.6 Z" class="w"/>
<path d="M757,176.6 L769.5,171.9 L769.5,186.2 L756.3,191 Z" class="w"/>
<path d="M753,166.5 C755,165 759,166.5 760,168.5 L750,170.5 C748,169.5 750,167 753,166.5 Z" class="t"/>
<path d="M742.5,174 L754,180.5 L754,189 L742.5,182 Z" class="t"/>
<path d="M743,172 L756,179" class="t"/>
<path d="M769,173 L773,172 L775.5,175 L775.5,179 L770,180 M770,180 L774,180.5 L775,185 L770,186" class="s"/>
</g>
<!-- wire 6 upper -->
<g>
<path d="M787,110 C787,107 789,106 791,106.5 L794,107.5 C796,108.5 796,111 795.9,114 L795.5,121 M787,110 L786.5,130 C787,136 788,141 792.3,144.3 C797,146.5 803,146 808,147 C813,148 818,150.5 822,153 L833,159.5" fill="none" stroke="#000" stroke-width="3.5" stroke-linecap="round"/>
<path d="M787,110 C787,107 789,106 791,106.5 L794,107.5 C796,108.5 796,111 795.9,114 L795.5,121 M787,110 L786.5,130 C787,136 788,141 792.3,144.3 C797,146.5 803,146 808,147 C813,148 818,150.5 822,153 L833,159.5" fill="none" stroke="#fff" stroke-width="1.5" stroke-linecap="round"/>
<path d="M790,110 L790.5,124 M792,111 L792,124" class="t"/>
<path d="M792.3,121.6 L797,120.5 L811,124 L812.6,126 L811.5,132.3 L808,131 L796,127.5 L793,126 Z" class="w"/>
<path d="M797,120.5 L797,127.5 M799,123 L810,126 M799,125.5 L810,128.5" class="t"/>
<ellipse cx="834.5" cy="160.5" rx="2" ry="3.2" transform="rotate(-30 834.5 160.5)" class="w"/>
<ellipse cx="836.5" cy="161.7" rx="2" ry="3.2" transform="rotate(-30 836.5 161.7)" class="w"/>
<path d="M838,162.5 L842,165" class="s" stroke-width="2"/>
<path d="M841.4,164 L845,162.5 L858,169 L858.7,172 L855,176.6 L851,175 L843,170 Z" class="w"/>
<path d="M845,162.5 L844.5,169.5 M846,166 L856,171.5 M846,169 L855,174" class="t"/>
</g>

<!-- gasket 9 upper -->
<path d="M507.5,338.8 L547.5,361.4 C549.5,362.5 550.5,363.5 551.5,365.5 C553.5,369 554.5,372 555,376 L557.3,389.3 C557.5,392.5 556.5,395 554,396 C553,396.5 552,396 551,395.5 L521.3,373.2 C518,371 515.5,369.5 513.5,368 C511,366 510,364 509,361.5 L504,344.5 C503.5,342 504,340 505,339 C505.8,338.4 506.6,338.4 507.5,338.8 Z" fill="#fff" stroke="#000" stroke-width="1.3" stroke-linejoin="round"/>
<path d="M508.1,378.7 L527.6,367.3" class="ld"/>
<!-- gasket 9 lower -->
<path d="M329,444.5 L372,460.5 C374.5,461.5 376,463 377,465.5 L379,478 C379.5,484 379.5,492 378.5,497 C378,499.5 376,500.5 373.5,499.5 L337,483 C334.5,482 333,480 332,477.5 L326.5,455 C325.8,451.5 325.5,448.5 326,446.5 C326.5,444.5 327.5,444 329,444.5 Z" fill="#fff" stroke="#000" stroke-width="1.3" stroke-linejoin="round"/>
<path d="M362.7,457.2 L395.4,438.1" class="ld"/>
<!-- plate 8 -->
<path d="M318.5,666 L348,649.5 C350.5,648 353.5,647.5 356,648.5 L401,673 C404.5,675 404.5,678 401.5,680 L369,698 C366.5,699 364.5,699 362,698 L318.5,674 C315,672 315,668 318.5,666 Z" fill="#fff" stroke="#000" stroke-width="1.2" stroke-linejoin="round"/>
<path d="M360,643.8 L360,673.5" class="ld"/>
<ellipse cx="360" cy="673.3" rx="8" ry="3.6" class="t"/>
<path d="M359.5,700 L359.5,708.8" class="ld"/>

<!-- screw 19 -->
<g>
<path d="M246.3,640.5 L246.3,641.7" class="ld"/>
<path d="M240,667 L240,670 C240,672.5 243,674 246.6,674 C250.5,674 253.3,672.5 253.3,670 L253.3,667" class="w"/>
<ellipse cx="246.6" cy="666.5" rx="6.6" ry="3.6" class="w"/>
<path d="M242.5,663.5 L242.5,651 C242.5,648 244,645.5 246.3,644.1 C248.5,645.5 250.5,648 250.8,651 L250.8,664 C249,666 244.5,666 242.5,663.5 Z" class="w"/>
<path d="M242.5,652 Q246.6,655 250.8,652 M242.5,655.5 Q246.6,658.5 250.8,655.5 M242.5,659 Q246.6,662 250.8,659 M242.5,662.5 Q246.6,665.5 250.8,662.5" class="s"/>
<ellipse cx="246.5" cy="646" rx="1.6" ry="1" class="t"/>
</g>
<!-- screw 27 bottom-left -->
<g>
<path d="M356.5,720 L356.5,713 C356.5,711 358,710 359.5,710 C361,710 362.5,711 362.5,713 L362.5,720" class="w"/>
<path d="M356.5,713.5 Q359.5,715.5 362.5,713.5 M356.5,716 Q359.5,718 362.5,716 M356.5,718.5 Q359.5,720.5 362.5,718.5" class="t"/>
<path d="M356.5,720 L354,724.5 C353,727 355.5,729 359.5,729 C363.5,729 366,727 365,724.5 L362.5,720 Z" class="w"/>
<path d="M354.5,724 Q359.5,727 364.5,724" class="t"/>
</g>
<!-- screw 27 center -->
<g>
<path d="M729,637 L737,640.5 L736,645 L728,641.5 C726.5,640.5 727,637.5 729,637 Z" class="w"/>
<path d="M731,637.5 L730,642 M733,638.5 L732,643 M735,639.5 L734,644" class="t"/>
<ellipse cx="740.5" cy="645" rx="4.2" ry="7" transform="rotate(-30 740.5 645)" class="w"/>
<path d="M738,643 L743,647 M741,642 L740,648" class="t"/>
</g>
<!-- part 32 -->
<g>
<path d="M676.3,525.2 L685.7,530 L681.4,539.3 L672,534.5 C670,532 671,527 673,525.8 C674,525.2 675.3,525 676.3,525.2 Z" class="w"/>
<ellipse cx="683.5" cy="534.6" rx="3.6" ry="4.9" transform="rotate(25 683.5 534.6)" class="w"/>
</g>

<!-- stator 2 -->
<g>
<!-- left tabs -->
<path d="M527.3,497 L531,494.5 L546.6,498 L546.6,512 L533,513 L527.3,509 Z" class="w"/>
<path d="M531,494.5 L531,510 L546.6,512 M527.3,497 L531,499" class="t"/>
<path d="M527.3,524 L531,522.5 L538,525 L537,532.5 L530,531 Z" class="w"/>
<!-- body -->
<path d="M552,467 L639.2,504.1 L611.8,576.9 L545.4,546 C540,541 536,533 534.5,522.8 C534,514 535,506 537,500 C540,488 544,478 552,467 Z" class="w"/>
<path d="M552,467 C544,478 540,488 537,500 C535,506 534,514 534.5,522.8 C536,533 540,541 545.4,546" class="s"/>
<path d="M557,476 C552,484 548,494 545.5,505 C544,513 544,522 545.5,530 C547,537 550,541 553,544" class="s"/>

<!-- top pins -->
<path d="M548,476 L548,469 C548,466.5 551,466.5 551,469 L551,474 M554,472 L554,467 C554,464.5 557,464.5 557,467 L557,471.5" class="s"/>
<!-- edges -->
<path d="M552,467 L639.2,504.1" class="s" stroke-width="1.5"/><path d="M545.4,546 L611.8,576.9" class="s" stroke-width="1.5"/>
<path d="M560,479.5 L610,505 M558,473 L630,504" class="t"/>
<path d="M545.5,530 L600,556" class="s"/>
<path d="M543,526.4 L600,551.9" class="t"/>
<!-- front ring -->
<ellipse cx="625.5" cy="540.5" rx="29.5" ry="39" transform="rotate(15 625.5 540.5)" class="w" stroke-width="1.4"/>
<ellipse cx="626" cy="540.5" rx="26" ry="35.5" transform="rotate(15 626 540.5)" class="s"/>
<ellipse cx="626.3" cy="540.5" rx="24.5" ry="34" transform="rotate(15 626.3 540.5)" class="t"/>
<!-- band near front -->
<path d="M617,490 C606,496 600,508 596,520 M614,492 L620,496" class="t"/>
<!-- pole shoe top -->
<path d="M610,533.5 L609,539 L632,528 C638,525 642,521 645,516 L645,512 L640,515 L636,510 L633,516 L628,520 L610,533.5 Z" class="w"/>
<path d="M609,528 L634,514 L642,510" class="t"/>
<path d="M637,512.5 l2,-3 l2,2 l2,-3 l1,3" class="s"/>
<path d="M623,535 L643,548" class="t"/>
<!-- lower inner arc and slot -->
<path d="M615,558 C620,566 630,568 640,562 C645,558 648,552 649,545" class="t"/>
<path d="M621,564 L629,560 L632,563 L624,567 Z" class="s"/>
<path d="M636,575 L638,582 l2,-1 l1,3 l2,-1 M645,566 L646,572" class="s"/>
<path d="M601,562 L607,566 L607,574" class="t"/>
</g>
<!-- part 28 -->
<g>
<path d="M653.8,560.6 L677.8,552.6 L698,536.6 L704,533.7 L715.6,541 L720,536 L726,535 L743,547 L741,557 L736,554 L728,552 L727,560 L730,583 L741.7,590.4 L741,595 L734.4,600.6 L717,618 L717,639.8 L701,637 L701,625 L690.9,626.7 L673.4,625.3 L663.2,618 L660.3,606.4 C654,598 650,590 649,583 C648,574 650,566 653.8,560.6 Z" class="w"/>
<!-- C front face inner edge (hole) -->
<path d="M716,566 C712,560 706,557 700,558.5 C692,561 684,570 680.5,580 C678.5,588 680,596 686,600.6 C692,603.5 700,602.5 706,599 C711,596 714,592 716,588" class="s"/>
<path d="M700,558.5 C704,562 707,570 707,578 M709,575 L713,568 L716,571 L712,585 Z" class="t"/>
<!-- C outer front edge double -->
<path d="M656,562 C652,570 651,580 652,590 C654,600 658,608 662.5,615" class="t"/>
<path d="M677.8,552.6 C668,558 662,566 660,576 C658,588 661,600 668,610 C672,616 676,621 682,623" class="t"/>
<!-- top bar -->
<path d="M677.8,552.6 L695.9,540.2 L709.6,534.2 L719,541 L705.5,550.5 L692,556.5 L680,560 Z" class="w"/>
<path d="M680,560 L692,556.5 L705.5,550.5 M695.9,540.2 L708,546" class="t"/>
<path d="M705.5,550.5 L719,543 L719,553.5 L706,559.5 Z" class="w"/>
<circle cx="712" cy="551" r="1.6" class="t"/>
<path d="M718,538 L722,533.5 L727,535 L743.8,547 L741.5,557 L736,553.5 L727,549 L720,546 Z" class="w"/>
<path d="M722,533.5 L724,540 M727,549 L729,544 L741.5,552" class="t"/>
<path d="M719,553.5 L716,566" class="t"/>
<!-- lower -->
<path d="M670,611 L684,616 L685,625 L671,621 Z" class="w"/>
<path d="M686,605 C698,606 712,602 722,595 L730,588" class="t"/>
<path d="M702,626 C706,623 712,622 716,625" class="t"/>
<ellipse cx="709" cy="631" rx="3.5" ry="4.5" class="s"/>
<path d="M736,586 L741,590 M727,560 L727,583" class="t"/>
</g>

<!-- dashed overlays -->
<g fill="none" stroke="#000" stroke-width="0.95" stroke-dasharray="14.5 2.2 2 2.3">
<path d="M490.8,469.3 L533,493.2"/>
<path d="M622.5,543.7 L660,565"/>
<path d="M690,583.5 L715,597.5 L908.8,487.5"/>
<path d="M851,287.5 L1014.5,390 L1059.5,365 L1059.5,442.5 L1014.5,467"/>
<path d="M997,330 L1070.8,371.3"/>
<path d="M653.8,172.5 L669,181"/>
</g>
</svg>
</body></html>
